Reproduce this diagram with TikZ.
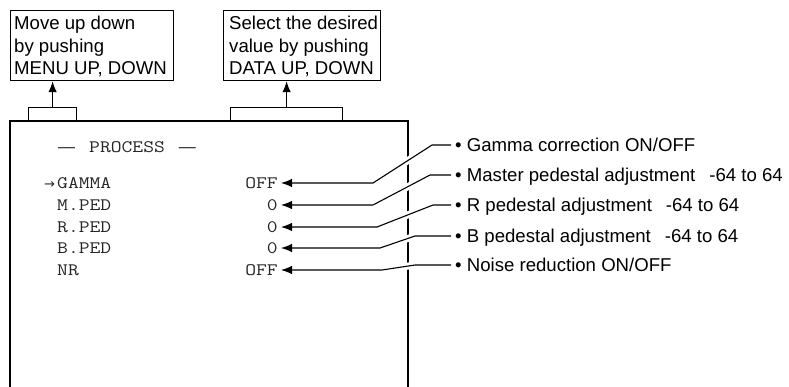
\documentclass[tikz,border=0pt]{standalone}
\usepackage{fontspec}
\setmainfont{Liberation Sans}
\newfontfamily\monofam[FakeStretch=1.2]{Latin Modern Mono}
\newfontfamily\symfam{DejaVu Sans}
\usetikzlibrary{arrows.meta}
\begin{document}
\begin{tikzpicture}[x=1pt,y=-1pt,
  every node/.style={inner sep=0pt},
  notetext/.style={font=\fontsize{18.6}{22.6}\selectfont, align=left, anchor=north west},
  notebox/.style={draw, line width=1.2pt, anchor=north west, minimum height=70pt},
  tabbox/.style={draw, line width=1.2pt, anchor=south west, minimum height=13pt},
  uparrow/.style={line width=1.2pt, -{Latex[length=11pt,width=8.5pt]}},
  leader/.style={line width=1.1pt, -{Latex[length=11pt,width=8.5pt]}},
  gapline/.style={white, line width=7pt},
  menutext/.style={font=\monofam\fontsize{17.5}{21}\selectfont, anchor=west, text=black!85},
  valtext/.style={font=\monofam\fontsize{17.5}{21}\selectfont, anchor=east, text=black!85},
  desctext/.style={font=\fontsize{18.6}{22}\selectfont, anchor=base west},
]
\useasboundingbox (0,0) rectangle (789,386);
% top note boxes
\node[notebox, minimum width=163.5pt] (box1) at (9.5,10) {};
\node[notetext] (t1) at (14,16) {Move up down\\by pushing\\MENU UP, DOWN};
\node[notebox, minimum width=157pt] (box2) at (223,10) {};
\node[notetext] (t2) at (229,16) {Select the desired\\value by pushing\\DATA UP, DOWN};
% screen
\node[minimum width=398.5pt, minimum height=275pt, anchor=north west] (screen) at (9.5,121) {};
\draw[line width=2pt] (screen.south west) -- (screen.north west) -- (screen.north east) -- (screen.south east);
% tabs
\node[tabbox, minimum width=48pt] (tab1) at (28,121) {};
\node[tabbox, minimum width=112pt] (tab2) at (230,121) {};
\draw[uparrow] (tab1.north) -- (tab1.north |- box1.south);
\draw[uparrow] (tab2.north) -- (tab2.north |- box2.south);
% screen text
\node[menutext] (title) at (58,147) {{\rmfamily\fontsize{17}{20}\selectfont —}\hspace{14pt}PROCESS\hspace{14pt}{\rmfamily\fontsize{17}{20}\selectfont —}};
\node[menutext] (m1) at (44,183) {\makebox[13pt][l]{\symfam\fontsize{13}{14}\selectfont →}GAMMA};
\node[menutext] (m2) at (57,205) {M.PED};
\node[menutext] (m3) at (57,227) {R.PED};
\node[menutext] (m4) at (57,248) {B.PED};
\node[menutext] (m5) at (57,270) {NR};
\node[valtext] (v1) at (278,183) {OFF};
\node[valtext] (v2) at (278,205) {0};
\node[valtext] (v3) at (278,227) {0};
\node[valtext] (v4) at (278,248) {0};
\node[valtext] (v5) at (278,270) {OFF};
% descriptions
\node[desctext] (d1) at (455,151.7) {• Gamma correction ON/OFF};
\node[desctext] (d2) at (455,181.7) {• Master pedestal adjustment\hspace{14pt}-64 to 64};
\node[desctext] (d3) at (455,211.7) {• R pedestal adjustment\hspace{14pt}-64 to 64};
\node[desctext] (d4) at (455,242.7) {• B pedestal adjustment\hspace{14pt}-64 to 64};
\node[desctext] (d5) at (455,271.7) {• Noise reduction ON/OFF};
% leader bend points
\coordinate (e1) at (451,145); \coordinate (a1) at (432,145); \coordinate (b1) at (373,183);
\coordinate (e2) at (451,175); \coordinate (a2) at (430,175); \coordinate (b2) at (373,205);
\coordinate (e3) at (451,205); \coordinate (a3) at (433,205); \coordinate (b3) at (377,227);
\coordinate (e4) at (451,236); \coordinate (a4) at (415,236); \coordinate (b4) at (380,248);
\coordinate (e5) at (451,265); \coordinate (a5) at (415,265); \coordinate (b5) at (382,270);
\foreach \i in {1,...,5} {
  \draw[gapline] (a\i) -- (b\i);
  \draw[leader] (e\i) -- (a\i) -- (b\i) -- ([xshift=3pt]v\i.east);
}
\end{tikzpicture}
\end{document}
